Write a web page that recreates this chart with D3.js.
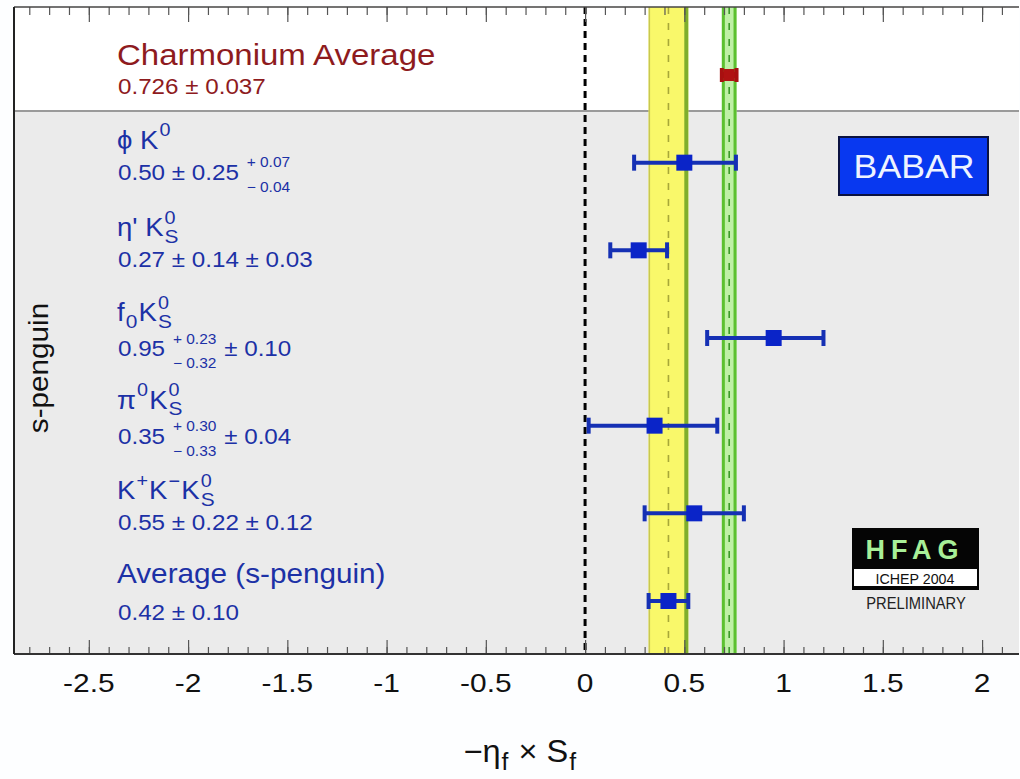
<!DOCTYPE html>
<html><head><meta charset="utf-8">
<script src="https://cdn.jsdelivr.net/npm/d3@7"></script>
<style>
html,body{margin:0;padding:0;background:#fff;}
svg{display:block;font-family:"Liberation Sans",Arial,Helvetica,sans-serif;}
</style></head>
<body><svg id="c" width="1020" height="779"></svg>
<script>
// ---------- data ----------
const rowNames = ["Charmonium", "phiK0", "etapK0S", "f0K0S", "pi0K0S", "KKK0S", "Average"];
const centralValues = [0.726, 0.50, 0.27, 0.95, 0.35, 0.55, 0.42];
const errLow  = [0.037, 0.253, 0.143, 0.335, 0.332, 0.25, 0.10];
const errHigh = [0.037, 0.260, 0.143, 0.251, 0.316, 0.25, 0.10];
const tickLabels = [-2.5, -2, -1.5, -1, -0.5, 0, 0.5, 1, 1.5, 2];
const sPenguinAvg = {value: 0.42, err: 0.10};
const charmAvg = {value: 0.726, err: 0.037};
// label pieces: strings are normal text, objects are stacked scripts
const nameLabels = [
  ["Charmonium Average"],
  ["\u03D5 K", {sup: "0"}],
  ["\u03B7' K", {sup: "0", sub: "S"}],
  ["f", {sub: "0"}, "K", {sup: "0", sub: "S"}],
  ["\u03C0", {sup: "0"}, "K", {sup: "0", sub: "S"}],
  ["K", {sup: "+"}, "K", {sup: "\u2212"}, "K", {sup: "0", sub: "S"}],
  ["Average (s-penguin)"]
];
const valueLabels = [
  ["0.726 \u00B1 0.037"],
  ["0.50 \u00B1 0.25 ", {sup: "+ 0.07", sub: "\u2212 0.04"}],
  ["0.27 \u00B1 0.14 \u00B1 0.03"],
  ["0.95 ", {sup: "+ 0.23", sub: "\u2212 0.32"}, " \u00B1 0.10"],
  ["0.35 ", {sup: "+ 0.30", sub: "\u2212 0.33"}, " \u00B1 0.04"],
  ["0.55 \u00B1 0.22 \u00B1 0.12"],
  ["0.42 \u00B1 0.10"]
];

// ---------- layout ----------
const W = 1020, H = 779;
const L = 14, R = 1019, T = 7, B = 654, SEP = 111;
const svg = d3.select("#c");
const x = d3.scaleLinear().domain([-2.877, 2.186]).range([L, R]);
const y = d3.scalePoint().domain(rowNames).range([75, 601]);

// backgrounds
svg.append("rect").attr("x",0).attr("y",0).attr("width",W).attr("height",H).attr("fill","#fdfeff");
svg.append("rect").attr("x",L).attr("y",T).attr("width",R-L).attr("height",SEP-T).attr("fill","#ffffff");
svg.append("rect").attr("x",L).attr("y",SEP).attr("width",R-L).attr("height",B-SEP).attr("fill","#ebebeb");
svg.append("line").attr("x1",L).attr("x2",R).attr("y1",SEP).attr("y2",SEP).attr("stroke","#9a9a9a").attr("stroke-width",2);

// bands
function band(v, e, fill, edgeL, edgeR, wl, wr, dashColor){
  svg.append("rect").attr("x",x(v-e)).attr("y",T).attr("width",x(v+e)-x(v-e)).attr("height",B-T).attr("fill",fill);
  svg.append("line").attr("x1",x(v-e)+wl/2).attr("x2",x(v-e)+wl/2).attr("y1",T).attr("y2",B).attr("stroke",edgeL).attr("stroke-width",wl);
  svg.append("line").attr("x1",x(v+e)-wr/2).attr("x2",x(v+e)-wr/2).attr("y1",T).attr("y2",B).attr("stroke",edgeR).attr("stroke-width",wr);
  svg.append("line").attr("x1",x(v)).attr("x2",x(v)).attr("y1",T).attr("y2",B).attr("stroke",dashColor).attr("stroke-width",1.6).attr("stroke-dasharray","7,9");
}
band(sPenguinAvg.value, sPenguinAvg.err, "#f9f86a", "#c8c850", "#7fae2c", 1.5, 4, "#a8a838");
band(charmAvg.value, charmAvg.err, "#bff0a6", "#5cc030", "#5cc030", 3, 3, "#3c9a2a");

// zero dashed line
svg.append("line").attr("x1",x(0)).attr("x2",x(0)).attr("y1",T).attr("y2",B)
  .attr("stroke","#000").attr("stroke-width",3).attr("stroke-dasharray","7,5");

// ticks
const minor = x.ticks(50);
const major = tickLabels;
function tickAxis(axisFn, yPos, vals, size){
  const g = svg.append("g").attr("transform",`translate(0,${yPos})`)
    .call(axisFn(x).tickValues(vals).tickSize(size).tickFormat(""));
  g.select(".domain").remove();
  g.selectAll(".tick line").attr("stroke","#555").attr("stroke-width",1.2);
}
tickAxis(d3.axisBottom, B, minor, -7);
tickAxis(d3.axisBottom, B, major, -14);
tickAxis(d3.axisTop, T, minor, -8);
tickAxis(d3.axisTop, T, major, -15);

// frame
svg.append("line").attr("x1",L).attr("x2",R).attr("y1",T).attr("y2",T).attr("stroke","#444").attr("stroke-width",1.5);
svg.append("line").attr("x1",L).attr("x2",R).attr("y1",B).attr("y2",B).attr("stroke","#333").attr("stroke-width",2);
svg.append("line").attr("x1",L).attr("x2",L).attr("y1",T).attr("y2",B).attr("stroke","#222").attr("stroke-width",2);

// tick labels
tickLabels.forEach(v=>{
  svg.append("text").attr("transform",`translate(${x(v)},${B+38}) scale(1.15,1)`)
    .attr("text-anchor","middle").attr("font-size",26).attr("fill","#111")
    .text(String(v));
});

// rich text helper
function rich(parent, x0, y0, parts, size, color, sc){
  const g = parent.append("g").attr("transform",`translate(${x0},${y0}) scale(${sc},1)`).attr("fill",color);
  let cx = 0;
  parts.forEach(p=>{
    if (typeof p === "string"){
      const t = g.append("text").attr("x",cx).attr("y",0).attr("font-size",size).style("white-space","pre").text(p);
      cx += t.node().getComputedTextLength();
    } else {
      const s = size*0.64;
      let w = 0;
      const isNum = /\d\.\d/.test(p.sup||p.sub||"");
      if (p.sup){
        const t = g.append("text").attr("x",cx+1).attr("y",isNum? -size*0.56 : -size*0.5).attr("font-size",isNum? s : size*0.72).style("white-space","pre").text(p.sup);
        w = Math.max(w, t.node().getComputedTextLength());
      }
      if (p.sub){
        const t = g.append("text").attr("x",cx+1).attr("y",isNum? size*0.55 : size*0.26).attr("font-size",isNum? s : size*0.76).style("white-space","pre").text(p.sub);
        w = Math.max(w, t.node().getComputedTextLength());
      }
      cx += w + 2;
    }
  });
  return g;
}

// row labels
const darkRed = "#8e1b1e", blueText = "#1c31a6";
rowNames.forEach((r,i)=>{
  const yy = y(r);
  const col = i===0 ? darkRed : blueText;
  let nameSize = 25, nameDy = -14, valDy = 17;
  if (i===0){ nameSize = 30; nameDy = -10; valDy = 19; }
  if (i===3 || i===4){ nameDy = -17; valDy = 18; }
  if (i===rowNames.length-1){ nameSize = 27; nameDy = -18; valDy = 19; }
  rich(svg, 117, yy+nameDy, nameLabels[i], nameSize, col, 1.1);
  rich(svg, 118, yy+valDy, valueLabels[i], 22, col, 1.1);
});

// s-penguin axis title
svg.append("text").attr("transform","translate(48,368) rotate(-90) scale(1.1,1)")
  .attr("text-anchor","middle").attr("font-size",27).attr("fill","#111").text("s-penguin");

// error bars & markers
const pts = rowNames.map((r,i)=>({r, v:centralValues[i], lo:errLow[i], hi:errHigh[i], charm:i===0}));
pts.forEach(d=>{
  const yy = y(d.r);
  const col = d.charm ? "#a81010" : "#1530b4";
  const fillC = d.charm ? "#b01212" : "#0a24c8";
  const cap = d.charm ? 14 : 16;
  svg.append("line").attr("x1",x(d.v-d.lo)).attr("x2",x(d.v+d.hi)).attr("y1",yy).attr("y2",yy)
    .attr("stroke",col).attr("stroke-width", d.charm ? 6 : 4);
  [d.v-d.lo, d.v+d.hi].forEach(e=>{
    svg.append("line").attr("x1",x(e)).attr("x2",x(e)).attr("y1",yy-cap/2).attr("y2",yy+cap/2)
      .attr("stroke",col).attr("stroke-width",4);
  });
  const s = d.charm ? 11 : 16;
  svg.append("rect").attr("x",x(d.v)-s/2).attr("y",yy-(d.charm?6:8)).attr("width",s).attr("height",d.charm?12:16)
    .attr("fill",fillC);
});

// BABAR box
svg.append("rect").attr("x",839).attr("y",137).attr("width",149).attr("height",58)
  .attr("fill","#0838f0").attr("stroke","#0b1240").attr("stroke-width",2);
svg.append("text").attr("transform","translate(914,178) scale(1.08,1)").attr("text-anchor","middle")
  .attr("font-size",33).attr("fill","#eef3ff").text("BABAR");

// HFAG logo
svg.append("rect").attr("x",852).attr("y",528).attr("width",127).attr("height",62).attr("fill","#050505");
svg.append("text").attr("x",915).attr("y",559).attr("text-anchor","middle").attr("font-size",27)
  .attr("font-weight","bold").attr("letter-spacing",6).attr("fill","#a8f098").text("HFAG");
svg.append("rect").attr("x",854).attr("y",569).attr("width",123).attr("height",17).attr("fill","#ffffff");
svg.append("text").attr("transform","translate(915,584) scale(0.95,1)").attr("text-anchor","middle").attr("font-size",15)
  .attr("fill","#111").text("ICHEP 2004");
svg.append("text").attr("transform","translate(916,609) scale(0.92,1)").attr("text-anchor","middle").attr("font-size",16)
  .attr("fill","#222").text("PRELIMINARY");

// x-axis title
const xt = rich(svg, 0, 762, ["\u2212\u03B7", {sub:"f"}, " \u00D7 S", {sub:"f"}], 31, "#111", 1.05);
const bb = xt.node().getBBox();
xt.attr("transform",`translate(${520 - (bb.x+bb.width/2)*1.05},762) scale(1.05,1)`);
</script></body></html>
